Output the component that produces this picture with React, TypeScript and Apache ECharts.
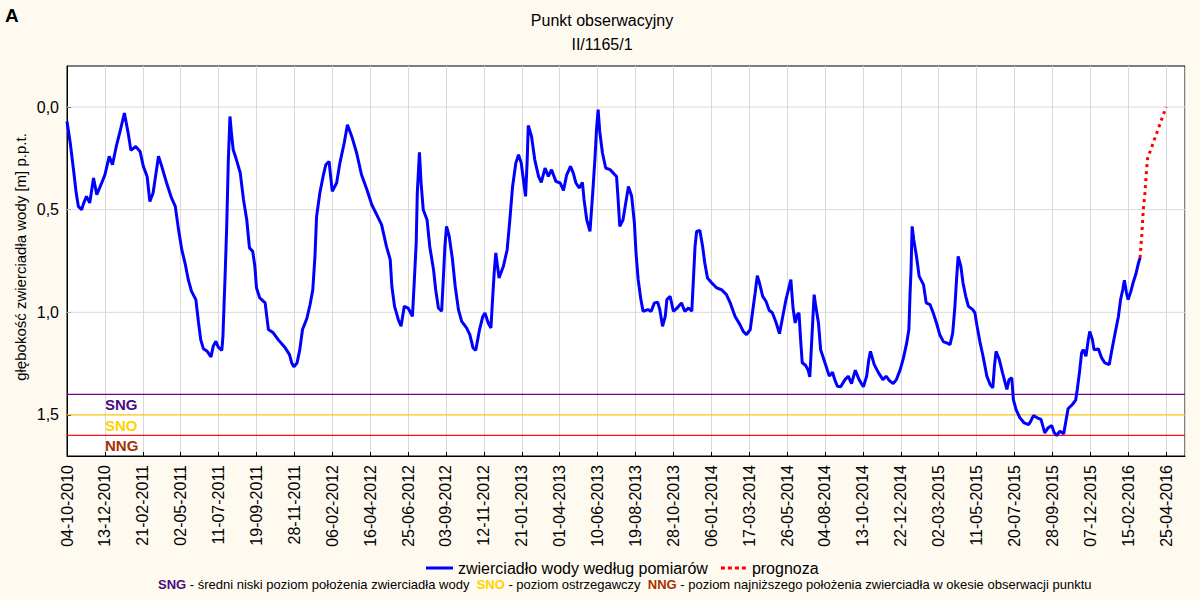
import React, { useEffect, useRef } from "react";
import * as echarts from "echarts";

// Day offsets from 04-10-2010 and depth below ground [m]
const measDays = [0, 6, 12, 17, 21, 27, 31, 36, 42, 49, 55, 64, 70, 78, 84, 91, 98, 106, 113, 118, 127, 135, 141, 148, 153, 159, 169, 175, 184, 193, 200, 206, 212, 218, 224, 230, 238, 243, 247, 252, 259, 266, 270, 275, 279, 286, 288, 290, 292, 295, 298, 301, 304, 307, 313, 320, 326, 332, 337, 343, 347, 350, 356, 366, 369, 372, 381, 390, 403, 411, 415, 419, 425, 430, 435, 443, 449, 454, 458, 461, 467, 473, 478, 484, 490, 498, 504, 512, 518, 526, 535, 544, 554, 563, 572, 581, 590, 597, 600, 605, 612, 617, 623, 630, 638, 641, 645, 647, 651, 654, 658, 665, 670, 677, 681, 686, 692, 695, 698, 701, 706, 712, 717, 723, 729, 738, 744, 750, 755, 762, 768, 772, 778, 783, 786, 789, 792, 798, 806, 813, 818, 823, 829, 834, 839, 843, 847, 850, 852, 858, 864, 871, 876, 883, 889, 895, 903, 911, 917, 923, 930, 935, 940, 946, 952, 955, 960, 966, 971, 975, 978, 981, 984, 989, 995, 1003, 1015, 1018, 1021, 1027, 1032, 1037, 1043, 1048, 1051, 1055, 1060, 1064, 1073, 1079, 1085, 1091, 1095, 1100, 1105, 1108, 1114, 1120, 1127, 1135, 1141, 1148, 1154, 1157, 1160, 1163, 1169, 1174, 1178, 1183, 1191, 1200, 1209, 1218, 1225, 1234, 1243, 1249, 1255, 1262, 1266, 1271, 1275, 1279, 1285, 1291, 1297, 1303, 1310, 1316, 1322, 1328, 1334, 1337, 1341, 1345, 1349, 1352, 1355, 1358, 1364, 1369, 1372, 1375, 1380, 1383, 1388, 1392, 1398, 1404, 1408, 1414, 1418, 1423, 1429, 1437, 1443, 1449, 1456, 1463, 1471, 1477, 1481, 1484, 1491, 1499, 1507, 1513, 1519, 1526, 1532, 1539, 1545, 1551, 1555, 1557, 1559, 1561, 1564, 1569, 1574, 1582, 1587, 1594, 1600, 1606, 1612, 1619, 1625, 1631, 1636, 1640, 1643, 1646, 1651, 1655, 1660, 1665, 1673, 1677, 1681, 1686, 1692, 1699, 1705, 1710, 1713, 1716, 1722, 1728, 1736, 1740, 1745, 1748, 1753, 1760, 1768, 1776, 1780, 1785, 1792, 1799, 1806, 1812, 1819, 1823, 1828, 1834, 1841, 1845, 1849, 1857, 1863, 1866, 1870, 1874, 1877, 1882, 1886, 1889, 1894, 1897, 1905, 1911, 1917, 1925, 1930, 1936, 1942, 1946, 1950, 1953, 1957, 1960, 1965, 1969, 1974, 1979, 1982];
const measDepth = [0.07, 0.175, 0.305, 0.419, 0.484, 0.5, 0.467, 0.435, 0.467, 0.346, 0.427, 0.37, 0.33, 0.24, 0.281, 0.192, 0.119, 0.029, 0.127, 0.211, 0.192, 0.216, 0.289, 0.338, 0.46, 0.419, 0.24, 0.289, 0.37, 0.443, 0.484, 0.597, 0.695, 0.76, 0.841, 0.898, 0.938, 1.052, 1.133, 1.178, 1.19, 1.217, 1.166, 1.141, 1.168, 1.185, 1.117, 0.971, 0.825, 0.58, 0.257, 0.046, 0.135, 0.208, 0.257, 0.321, 0.451, 0.549, 0.686, 0.703, 0.776, 0.881, 0.93, 0.954, 1.02, 1.084, 1.1, 1.133, 1.173, 1.206, 1.246, 1.266, 1.246, 1.182, 1.084, 1.03, 0.962, 0.89, 0.727, 0.533, 0.419, 0.338, 0.281, 0.265, 0.411, 0.37, 0.273, 0.175, 0.086, 0.143, 0.224, 0.33, 0.403, 0.476, 0.524, 0.573, 0.679, 0.743, 0.873, 0.971, 1.036, 1.068, 0.971, 0.979, 1.02, 0.873, 0.662, 0.419, 0.221, 0.37, 0.5, 0.549, 0.679, 0.792, 0.89, 0.979, 0.995, 0.841, 0.679, 0.581, 0.63, 0.743, 0.873, 0.987, 1.044, 1.076, 1.109, 1.173, 1.185, 1.084, 1.02, 1.003, 1.052, 1.076, 0.938, 0.808, 0.711, 0.833, 0.776, 0.695, 0.549, 0.387, 0.273, 0.232, 0.273, 0.354, 0.435, 0.26, 0.09, 0.143, 0.257, 0.338, 0.367, 0.297, 0.338, 0.305, 0.362, 0.37, 0.406, 0.33, 0.289, 0.321, 0.37, 0.394, 0.367, 0.451, 0.549, 0.606, 0.419, 0.257, 0.111, 0.013, 0.119, 0.224, 0.297, 0.305, 0.338, 0.451, 0.581, 0.549, 0.467, 0.387, 0.435, 0.565, 0.711, 0.841, 0.938, 0.995, 0.987, 0.995, 0.954, 0.951, 0.987, 1.068, 1.02, 0.938, 0.922, 0.995, 0.979, 0.954, 0.995, 0.979, 0.995, 0.841, 0.679, 0.606, 0.601, 0.679, 0.76, 0.833, 0.857, 0.881, 0.89, 0.914, 0.954, 1.02, 1.06, 1.093, 1.109, 1.084, 1.003, 0.906, 0.821, 0.857, 0.922, 0.946, 0.99, 1.003, 1.052, 1.104, 1.02, 0.938, 0.873, 0.841, 0.979, 1.052, 1.011, 1.003, 1.133, 1.246, 1.258, 1.282, 1.315, 1.166, 0.914, 0.971, 1.052, 1.182, 1.23, 1.279, 1.311, 1.292, 1.328, 1.36, 1.363, 1.328, 1.311, 1.347, 1.282, 1.328, 1.363, 1.311, 1.23, 1.19, 1.255, 1.295, 1.328, 1.311, 1.333, 1.347, 1.328, 1.279, 1.222, 1.149, 1.084, 0.922, 0.792, 0.581, 0.646, 0.727, 0.825, 0.865, 0.954, 0.962, 1.003, 1.052, 1.109, 1.144, 1.149, 1.157, 1.1, 0.971, 0.841, 0.727, 0.776, 0.857, 0.922, 0.971, 0.987, 1.003, 1.068, 1.141, 1.214, 1.311, 1.352, 1.368, 1.263, 1.19, 1.23, 1.295, 1.376, 1.328, 1.319, 1.425, 1.474, 1.514, 1.539, 1.547, 1.531, 1.503, 1.514, 1.522, 1.587, 1.563, 1.552, 1.584, 1.6, 1.579, 1.591, 1.531, 1.47, 1.449, 1.428, 1.376, 1.295, 1.198, 1.182, 1.214, 1.141, 1.093, 1.133, 1.182, 1.178, 1.222, 1.246, 1.255, 1.182, 1.1, 1.02, 0.938, 0.89, 0.844, 0.906, 0.938, 0.898, 0.857, 0.816, 0.76, 0.735];

const forecastDays = [1982, 1985, 1988, 1991, 1994, 1996, 2030];
const forecastDepth = [0.735, 0.63, 0.5, 0.419, 0.305, 0.25, 0.0];

const levelNames = ["SNG", "SNO", "NNG"];
const levelValues = [1.4, 1.5, 1.6];
const levelColors = ["#6a0a80", "#f7c21a", "#ff1010"];
const levelTextColors = ["#4b0a82", "#ffd200", "#a83000"];

const yTickValues = [0, 0.5, 1.0, 1.5];
const xTickStep = 70;
const xMax = 2065;

const START = Date.UTC(2010, 9, 4);
const pad = (n: number) => (n < 10 ? "0" + n : "" + n);
function fmtDay(day: number): string {
  const d = new Date(START + Math.round(day) * 86400000);
  return pad(d.getUTCDate()) + "-" + pad(d.getUTCMonth() + 1) + "-" + d.getUTCFullYear();
}

const FONT = "Liberation Sans, Arial, sans-serif";
const SERIES1 = "zwierciadło wody według pomiarów";
const SERIES2 = "prognoza";
const Y_NAME = "głębokość zwierciadła wody [m] p.p.t.";

export default function App() {
  const ref = useRef<HTMLDivElement>(null);
  useEffect(() => {
    if (!ref.current) return;
    const chart = echarts.init(ref.current, undefined, { renderer: "svg" });
    const meas = measDays.map((d, i) => [d, measDepth[i]]);
    const fc = forecastDays.map((d, i) => [d, forecastDepth[i]]);
    const hLine = (name: string, v: number, color: string, z: number, w: number) => ({
      name,
      type: "line",
      data: [
        [0, v],
        [xMax, v],
      ],
      symbol: "none",
      showSymbol: false,
      silent: true,
      emphasis: { disabled: true },
      lineStyle: { color, width: w, type: "solid", opacity: 1 },
      itemStyle: { color },
      z,
    });
    const gridLines = yTickValues
      .filter((v) => levelValues.indexOf(v) < 0)
      .map((v, i) => hLine("grid" + i, v, "#d9d9d9", 1, 1));
    const levelLines = levelValues.map((v, i) => hLine(levelNames[i], v, levelColors[i], 2, 1.2));
    chart.setOption({
      animation: false,
      backgroundColor: "#fffaf0",
      textStyle: { fontFamily: FONT },
      title: {
        text: "Punkt obserwacyjny\nII/1165/1",
        left: 597,
        textAlign: "center",
        top: 3,
        textStyle: { fontSize: 16, fontWeight: "normal", color: "#000", lineHeight: 24, fontFamily: FONT },
      },
      grid: {
        left: 67,
        top: 66,
        right: 15,
        bottom: 144,
        show: true,
        backgroundColor: "#ffffff",
        borderColor: "#000",
        borderWidth: 1,
      },
      legend: {
        data: [
          { name: SERIES1, icon: "rect" },
          { name: SERIES2, icon: "path://M0,0h4v3h-4z M7,0h4v3h-4z M14,0h4v3h-4z M21,0h4v3h-4z" },
        ],
        left: 421,
        top: 555,
        itemWidth: 27,
        itemHeight: 3,
        itemGap: 13,
        textStyle: { fontSize: 16, color: "#000", fontFamily: FONT },
      },
      xAxis: {
        type: "value",
        min: 0,
        max: xMax,
        interval: xTickStep,
        axisLine: { show: true, onZero: false, lineStyle: { color: "#000", width: 1 } },
        axisTick: { show: true, inside: true, length: 4, lineStyle: { color: "#000" } },
        axisLabel: {
          rotate: 90,
          margin: 9,
          fontSize: 16,
          color: "#000",
          fontFamily: FONT,
          showMaxLabel: false,
          formatter: (v: number) => fmtDay(v),
        },
        splitLine: { show: true, lineStyle: { color: "#d9d9d9", width: 1 } },
      },
      yAxis: {
        type: "value",
        inverse: true,
        min: -0.2,
        max: 1.7,
        axisLine: { show: true, onZero: false, lineStyle: { color: "#000", width: 1 } },
        axisTick: { show: true, inside: true, length: 4, lineStyle: { color: "#000" }, customValues: yTickValues },
        axisLabel: {
          margin: 8,
          fontSize: 16,
          color: "#000",
          fontFamily: FONT,
          customValues: yTickValues,
          formatter: (v: number) => v.toFixed(1).replace(".", ","),
        },
        splitLine: { show: false },
      },
      series: [
        ...gridLines,
        ...levelLines,
        {
          name: SERIES1,
          type: "line",
          data: meas,
          symbol: "none",
          showSymbol: false,
          lineStyle: { color: "#0000ff", width: 3 },
          itemStyle: { color: "#0000ff" },
          z: 4,
        },
        {
          name: SERIES2,
          type: "line",
          data: fc,
          symbol: "none",
          showSymbol: false,
          lineStyle: { color: "#ff0000", width: 3, type: [3, 4] },
          itemStyle: { color: "#ff0000" },
          z: 3,
        },
      ],
      graphic: [
        {
          type: "text",
          left: 5,
          top: 6,
          style: { text: "A", fontSize: 19, fontWeight: "bold", fill: "#000", fontFamily: FONT },
        },
        {
          type: "text",
          x: 20,
          y: 257,
          rotation: Math.PI / 2,
          style: {
            text: Y_NAME,
            fontSize: 15,
            fill: "#000",
            fontFamily: FONT,
            align: "center",
            verticalAlign: "middle",
          },
        },
        ...levelNames.map((n, i) => ({
          type: "text",
          left: 105,
          top: [397, 418, 438][i],
          style: { text: n, fontSize: 15, fontWeight: "bold", fill: levelTextColors[i], fontFamily: FONT },
        })),
        {
          type: "text",
          left: 158,
          top: 578,
          style: {
            text:
              "{a|SNG}{t| - średni niski poziom położenia zwierciadła wody  }{b|SNO}{t| - poziom ostrzegawczy  }{c|NNG}{t| - poziom najniższego położenia zwierciadła w okesie obserwacji punktu}",
            rich: {
              a: { fontSize: 13, fontWeight: "bold", fill: levelTextColors[0], fontFamily: FONT },
              b: { fontSize: 13, fontWeight: "bold", fill: levelTextColors[1], fontFamily: FONT },
              c: { fontSize: 13, fontWeight: "bold", fill: levelTextColors[2], fontFamily: FONT },
              t: { fontSize: 13, fill: "#000", fontFamily: FONT },
            },
          },
        },
      ],
    });
    return () => chart.dispose();
  }, []);
  return <div ref={ref} style={{ position: "absolute", left: 0, top: 0, width: 1200, height: 600 }} />;
}
